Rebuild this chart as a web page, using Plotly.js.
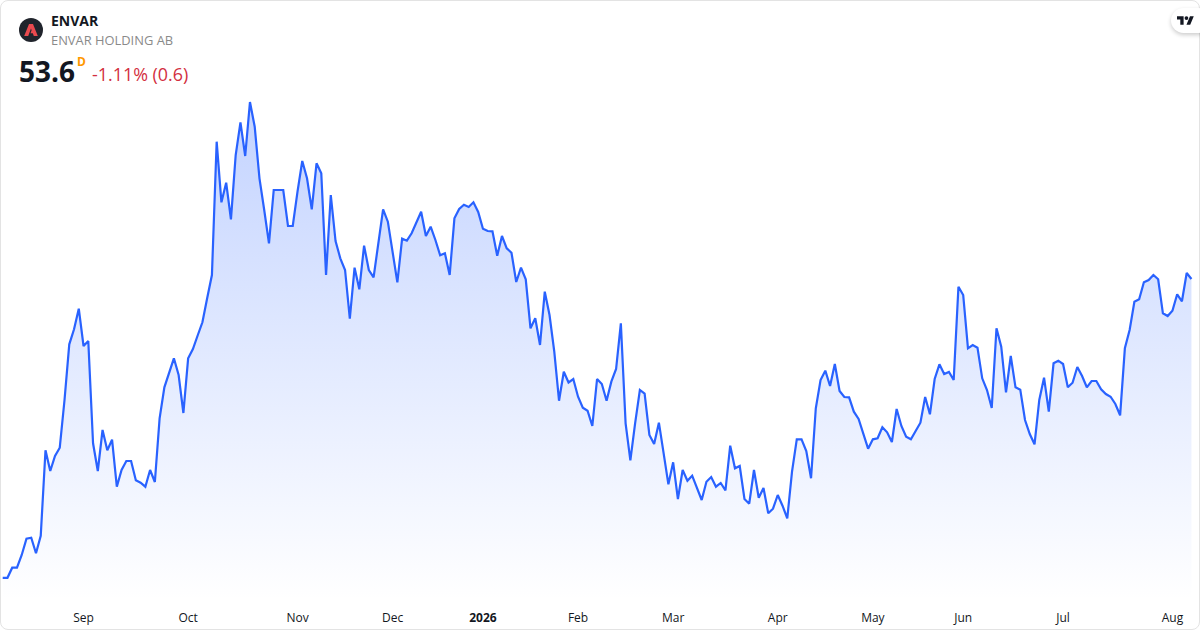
<!DOCTYPE html>
<html><head><meta charset="utf-8">
<script src="https://cdn.plot.ly/plotly-3.0.1.min.js"></script>
<style>
html,body{margin:0;padding:0;width:1200px;height:630px;background:#fff;overflow:hidden}
#frame{position:absolute;left:0;top:0;width:1198px;height:628px;border:1px solid #e3e3e3;border-radius:8px;overflow:hidden}
#chart{position:absolute;left:0;top:0;width:1200px;height:630px}
#pill{position:absolute;left:1171px;top:8px;width:40px;height:25px;border-radius:13px;background:#fff;box-shadow:0 2px 4px rgba(0,0,0,.2)}
#pill svg{position:absolute;left:6px;top:7px}
</style></head><body>
<div id="chart"></div>
<div id="frame"></div>
<div id="pill"><svg width="17" height="10" viewBox="0 0 36 20"><path fill="#131722" d="M14 20H7V9H0V2h14v18zM28 20h-8l7.5-18h8L28 20z"/><circle fill="#131722" cx="20" cy="6" r="4"/></svg></div>
<script>
const closes = [
23.72,23.72,24.73,24.73,26,27.63,27.73,26.17,27.93,36.47,
34.4,35.9,36.73,41.5,47.07,48.57,50.63,46.9,47.4,37.17,
34.4,38.5,36.47,37.53,32.83,34.5,35.4,35.4,33.47,33.23,
32.83,34.5,33.3,39.67,42.77,44.17,45.67,44,40.2,45.67,
46.6,47.95,49.27,51.67,54,67.33,61.27,63.23,59.57,66,
69.27,65.9,71.3,68.83,63.67,60.5,57.17,62.5,62.5,62.5,
58.9,58.9,62.33,65.4,63.67,60.57,65.17,64.17,54,62,
57.4,55.67,54.5,49.63,54.73,52.57,56.93,54.5,53.77,57,
60.57,59.33,56.33,53.27,57.63,57.43,58.17,59.33,60.33,57.9,
58.83,57.5,55.97,56.17,54,59.67,60.6,61.03,60.8,61.27,
60.3,58.63,58.4,58.37,55.93,57.9,56.67,56.23,53.3,54.73,
53.57,48.67,49.67,47,52.33,50,46.33,41.43,44.33,43.25,
43.6,41.83,40.73,40.43,38.9,43.6,43.1,41.43,43.33,44.6,
49.17,39.17,35.47,39.17,42.5,42.13,38,37.1,39.23,36.17,
33.07,35.27,31.6,34.5,33.43,33.93,32.67,31.5,33.33,33.8,
32.83,33.2,32.47,36.93,34.67,34.9,31.6,31.13,34.5,31.73,
32.7,30.17,30.63,32,30.93,29.67,34.33,37.57,37.57,36.4,
33.67,40.67,43.5,44.43,42.9,45.1,42.4,41.8,41.77,40.33,
39.6,38,36.63,37.57,37.67,38.77,38.27,37.3,40.6,38.9,
37.83,37.57,38.33,39.23,41.8,40.07,43.6,45.07,44.1,44.3,
43.5,52.83,52,46.67,47,46.73,43.67,42.5,40.7,48.67,
46.83,42.27,45.9,42.77,42.53,39.5,38.1,37.07,41.5,43.73,
40.33,45.17,45.43,45.1,42.77,43.23,44.8,43.9,42.77,43.4,
43.4,42.57,42.1,41.83,41.1,39.97,46.67,48.5,51.33,51.57,
53.27,53.5,54,53.57,50.17,49.9,50.43,52.07,51.37,54.2,
53.6];
const sessions = closes.map((_, i) => i);
const tickSessions = [17,39,62,82,101,121,141,163,183,202,223,246];
const tickLabels = ['Sep','Oct','Nov','Dec','<b>2026</b>','Feb','Mar','Apr','May','Jun','Jul','Aug'];
const ticker = 'ENVAR', company = 'ENVAR HOLDING AB', lastPrice = '53.6', interval = 'D', change = '-1.11% (0.6)';

const F = '"Open Sans", sans-serif';
const W = 1200, H = 630, B = 30, PH = H - B;
const px = x => x / W, py = y => (PH - y) / PH;
const note = (x, y, text, size, color) => ({
  xref:'paper', yref:'paper', x:px(x), y:py(y), text, showarrow:false,
  xanchor:'left', yanchor:'middle', borderpad:0, borderwidth:0,
  font:{family:F, size, color}
});
const P = pts => pts.map((p,i)=>(i?'L':'M')+px(p[0]).toFixed(5)+','+py(p[1]).toFixed(5)).join(' ')+' Z';

const trace = {
  type:'scatter', mode:'lines', x:sessions, y:closes,
  line:{color:'#2962ff', width:2.2, shape:'linear'},
  fill:'tozeroy',
  fillgradient:{type:'vertical', start:21.5, stop:71.3,
    colorscale:[[0,'rgba(41,98,255,0)'],[1,'rgba(41,98,255,0.28)']]},
  hoverinfo:'skip'
};
const layout = {
  width:W, height:H, showlegend:false,
  margin:{l:0,r:0,t:0,b:B,pad:0},
  paper_bgcolor:'rgba(0,0,0,0)', plot_bgcolor:'rgba(0,0,0,0)',
  xaxis:{range:[-0.568,251.8], showgrid:false, zeroline:false, showline:false,
    tickmode:'array', tickvals:tickSessions, ticktext:tickLabels, ticks:'outside', ticklen:7,
    tickcolor:'rgba(0,0,0,0)', tickangle:0, tickfont:{family:F,size:12,color:'#131722'}},
  yaxis:{range:[21.5,81.5], visible:false, fixedrange:true},
  shapes:[
    {type:'circle', xref:'paper', yref:'paper', x0:px(19), x1:px(43), y0:py(18), y1:py(42),
     fillcolor:'#20242c', line:{width:0}},
    {type:'path', xref:'paper', yref:'paper', fillcolor:'#ea4a4f', line:{width:0},
     path:P([[29,24],[33,24],[37.8,36],[33.8,36],[32.8,33.2],[30.5,33.2],[31.6,30.2],[31,28.5],[28.2,36],[24.2,36]])}
  ],
  annotations:[
    note(51,20.5,'<b>'+ticker+'</b>',14,'#131722'),
    note(51,40,company,12.9,'#8a8a8a'),
    note(19,71,'<b>'+lastPrice+'</b>',28,'#131722'),
    note(77,61,'<b>'+interval+'</b>',12,'#ff9800'),
    note(92,74.5,change,17.9,'#d32f3f')
  ]
};
Plotly.newPlot('chart',[trace],layout,{displayModeBar:false,staticPlot:true});
</script></body></html>
